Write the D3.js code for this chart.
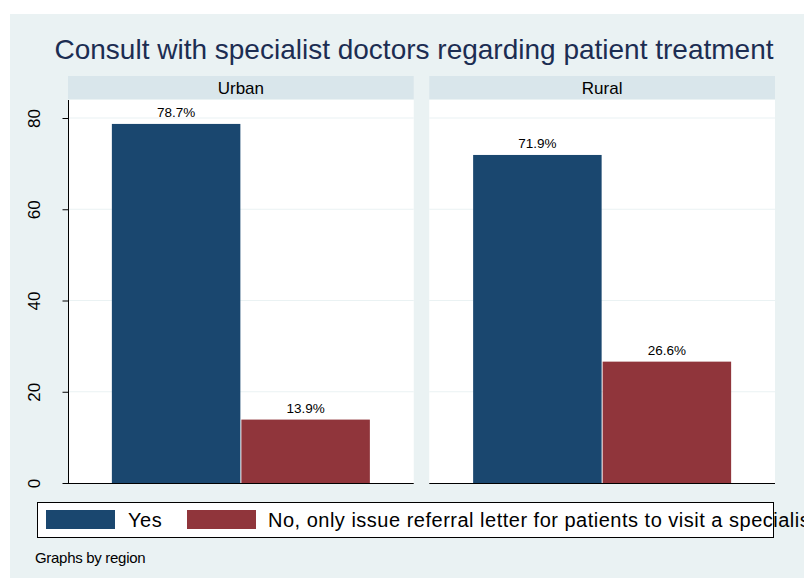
<!DOCTYPE html>
<html>
<head>
<meta charset="utf-8">
<script src="https://cdn.jsdelivr.net/npm/d3@7"></script>
<style>
  body { margin: 0; background: #fff; }
  text { font-family: "Liberation Sans", Arial, sans-serif; }
</style>
</head>
<body>
<div id="chart"></div>
<script>
// data
let regions = ['Urban', 'Rural'];
let answers = ['Yes', 'No, only issue referral letter for patients to visit a specialist'];
let yesValues = [78.7, 71.9];
let noValues = [13.9, 26.6];
let yTicks = [0, 20, 40, 60, 80];
let colors = ['#1a476f', '#90353b'];

let width = 804, height = 579;
let svg = d3.select('#chart').append('svg')
  .attr('width', width)
  .attr('height', height);

// outer background
svg.append('rect')
  .attr('x', 10).attr('y', 14)
  .attr('width', width - 10).attr('height', 564)
  .attr('fill', '#eaf2f3');

svg.append('text')
  .attr('x', 414).attr('y', 59)
  .attr('text-anchor', 'middle')
  .attr('font-size', '28px')
  .attr('fill', '#1c2d52')
  .text('Consult with specialist doctors regarding patient treatment');

let panelX = d3.scaleBand().domain(regions).range([68, 775]).paddingInner(0.043);
let y = d3.scaleLinear().domain([0, 80]).range([483, 118]);
let plotTop = 100;

regions.forEach(function(r, i){
  let g = svg.append('g').attr('transform', 'translate(' + panelX(r) + ',0)');
  let pw = panelX.bandwidth();
  // header strip
  g.append('rect').attr('x', 0).attr('y', 76).attr('width', pw).attr('height', 23)
    .attr('fill', '#d9e6eb');
  g.append('text').attr('x', pw / 2).attr('y', 94).attr('text-anchor', 'middle')
    .attr('font-size', '17px').attr('fill', '#000').text(r);
  // plot region
  g.append('rect').attr('x', 0).attr('y', plotTop).attr('width', pw).attr('height', y(0) - plotTop)
    .attr('fill', '#fff');
  // gridlines
  g.selectAll('.grid').data(yTicks.filter(function(t){ return t > 0; })).enter()
    .append('line')
    .attr('x1', 0).attr('x2', pw)
    .attr('y1', function(d){ return y(d); }).attr('y2', function(d){ return y(d); })
    .attr('stroke', '#eaf2f3').attr('stroke-width', 1.2);

  let x = d3.scaleBand().domain(answers).range([pw / 2 - 129.5, pw / 2 + 129.5]);
  let vals = [yesValues[i], noValues[i]];
  g.selectAll('.bar').data(answers).enter().append('rect')
    .attr('x', function(d){ return x(d) + 0.5; })
    .attr('y', function(d, j){ return y(vals[j]); })
    .attr('width', x.bandwidth() - 1)
    .attr('height', function(d, j){ return y(0) - y(vals[j]); })
    .attr('fill', function(d, j){ return colors[j]; });
  g.selectAll('.lbl').data(answers).enter().append('text')
    .attr('x', function(d){ return x(d) + x.bandwidth() / 2; })
    .attr('y', function(d, j){ return y(vals[j]) - 7; })
    .attr('text-anchor', 'middle')
    .attr('font-size', '13.5px').attr('fill', '#000')
    .text(function(d, j){ return vals[j].toFixed(1) + '%'; });

  // bottom axis line
  g.append('line').attr('x1', 0).attr('x2', pw)
    .attr('y1', y(0) + 0.5).attr('y2', y(0) + 0.5)
    .attr('stroke', '#000').attr('stroke-width', 1);

  if(i === 0){
    let axis = g.append('g').attr('transform', 'translate(0.5,0)')
      .call(d3.axisLeft(y).tickValues(yTicks).tickSize(6));
    axis.select('.domain').attr('d', 'M0,' + plotTop + 'V' + (y(0) + 0.5)).attr('stroke', '#000');
    axis.selectAll('.tick line').attr('stroke', '#000');
    axis.selectAll('.tick text')
      .attr('font-size', '17px').attr('fill', '#000')
      .attr('font-family', '"Liberation Sans", Arial, sans-serif')
      .attr('transform', 'rotate(-90,-34,0)')
      .attr('x', -34).attr('dy', '0.35em')
      .attr('text-anchor', 'middle');
  }
});

// legend
let lg = svg.append('g');
lg.append('rect').attr('x', 37.5).attr('y', 502.5).attr('width', 736).attr('height', 35)
  .attr('fill', '#fff').attr('stroke', '#000').attr('stroke-width', 1);
let legendX = [46, 187];
let legendTextX = [128, 268];
answers.forEach(function(a, j){
  lg.append('rect').attr('x', legendX[j]).attr('y', 510).attr('width', 69).attr('height', 19)
    .attr('fill', colors[j]);
  lg.append('text').attr('x', legendTextX[j]).attr('y', 527)
    .attr('font-size', '20px').attr('letter-spacing', '0.5px')
    .attr('fill', '#000').text(a);
});

svg.append('text').attr('x', 35).attr('y', 563)
  .attr('font-size', '15px').attr('letter-spacing', '-0.3px')
  .attr('fill', '#000').text('Graphs by region');
</script>
</body>
</html>
